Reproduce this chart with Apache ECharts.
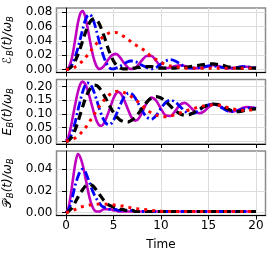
<!DOCTYPE html>
<html><head><meta charset="utf-8">
<script src="https://cdn.jsdelivr.net/npm/echarts@6/dist/echarts.min.js"></script>
<style>html,body{margin:0;padding:0;background:#fff}#c{width:274px;height:259px}</style>
</head><body><div id="c"></div>
<script>
var time = [0,0.25,0.5,0.75,1,1.25,1.5,1.75,2,2.25,2.5,2.75,3,3.25,3.5,3.75,4,4.25,4.5,4.75,5,5.25,5.5,5.75,6,6.25,6.5,6.75,7,7.25,7.5,7.75,8,
  8.5,9,9.5,10,10.5,11,11.5,12,12.5,13,13.5,14,14.5,15,15.5,16,16.5,17,17.5,18,18.5,19,19.5,20];
var xTicks = [0,5,10,15,20];

// Panel 1
var p1Magenta = [0,0.002,0.010,0.025,0.045,0.065,0.078,0.082,0.075,0.060,0.042,0.025,0.012,0.004,0.001,0.002,0.005,0.010,0.015,0.019,0.021,0.022,0.020,0.016,0.011,0.007,0.003,0.001,0.001,0.002,0.005,0.009,0.013,
  0.019,0.019,0.012,0.004,0.002,0.003,0.005,0.006,0.005,0.003,0.002,0.002,0.003,0.005,0.006,0.005,0.003,0.002,0.002,0.003,0.004,0.004,0.003,0.002];
var p1Blue = [0,0.001,0.004,0.010,0.019,0.030,0.043,0.056,0.068,0.075,0.077,0.073,0.064,0.052,0.039,0.027,0.017,0.009,0.004,0.001,0.001,0.002,0.003,0.005,0.007,0.009,0.011,0.012,0.012,0.011,0.010,0.008,0.006,
  0.003,0.001,0.003,0.008,0.012,0.014,0.012,0.008,0.004,0.002,0.002,0.003,0.004,0.005,0.005,0.004,0.003,0.002,0.002,0.003,0.004,0.004,0.003,0.002];
var p1Black = [0,0.001,0.003,0.007,0.013,0.021,0.030,0.040,0.050,0.059,0.066,0.070,0.071,0.069,0.064,0.056,0.047,0.037,0.027,0.019,0.012,0.007,0.004,0.002,0.001,0.001,0.001,0.001,0.002,0.002,0.003,0.003,0.004,
  0.004,0.004,0.003,0.002,0.002,0.002,0.002,0.003,0.003,0.004,0.005,0.006,0.007,0.008,0.008,0.007,0.006,0.004,0.003,0.002,0.002,0.002,0.002,0.002];
var p1Red = [0,0.0003,0.001,0.002,0.004,0.006,0.009,0.012,0.016,0.020,0.024,0.029,0.033,0.037,0.041,0.044,0.047,0.049,0.051,0.052,0.052,0.052,0.051,0.049,0.047,0.045,0.042,0.040,0.037,0.035,0.033,0.031,0.029,
  0.024,0.018,0.014,0.010,0.007,0.005,0.004,0.003,0.002,0.002,0.002,0.002,0.002,0.002,0.002,0.002,0.002,0.002,0.002,0.002,0.002,0.002,0.002,0.002];
var p1Ticks = [0,0.02,0.04,0.06,0.08];

// Panel 2
var p2Magenta = [0,0.015,0.05,0.095,0.14,0.18,0.208,0.218,0.21,0.19,0.16,0.128,0.097,0.072,0.058,0.056,0.066,0.085,0.108,0.133,0.157,0.174,0.18,0.175,0.16,0.14,0.118,0.097,0.082,0.075,0.077,0.088,0.104,
  0.14,0.16,0.148,0.118,0.094,0.092,0.11,0.133,0.14,0.128,0.11,0.102,0.108,0.124,0.134,0.132,0.122,0.112,0.108,0.112,0.12,0.125,0.124,0.12];
var p2Blue = [0,0.004,0.018,0.042,0.075,0.112,0.148,0.18,0.203,0.213,0.211,0.197,0.175,0.148,0.12,0.095,0.076,0.064,0.06,0.064,0.076,0.094,0.115,0.136,0.155,0.168,0.175,0.176,0.171,0.16,0.145,0.128,0.112,
  0.088,0.08,0.094,0.12,0.142,0.15,0.143,0.127,0.11,0.1,0.102,0.112,0.125,0.133,0.135,0.13,0.12,0.111,0.108,0.11,0.116,0.121,0.122,0.12];
var p2Black = [0,0.002,0.01,0.025,0.045,0.07,0.098,0.126,0.152,0.174,0.19,0.201,0.205,0.203,0.195,0.183,0.168,0.152,0.135,0.119,0.105,0.093,0.083,0.076,0.072,0.07,0.07,0.073,0.078,0.086,0.096,0.107,0.12,
  0.143,0.158,0.163,0.158,0.145,0.128,0.112,0.1,0.095,0.097,0.105,0.116,0.126,0.133,0.136,0.134,0.127,0.118,0.111,0.108,0.11,0.114,0.117,0.118];
var p2Red = [0,0.001,0.003,0.007,0.012,0.019,0.027,0.037,0.047,0.059,0.072,0.086,0.1,0.114,0.127,0.139,0.15,0.16,0.168,0.174,0.179,0.182,0.183,0.182,0.18,0.176,0.172,0.166,0.16,0.153,0.146,0.138,0.13,
  0.115,0.103,0.095,0.09,0.089,0.092,0.097,0.103,0.109,0.115,0.12,0.125,0.129,0.132,0.133,0.132,0.128,0.123,0.118,0.115,0.113,0.113,0.114,0.115];
var p2Ticks = [0,0.05,0.10,0.15,0.20];

// Panel 3
var p3Magenta = [0,0.004,0.016,0.032,0.046,0.054,0.051,0.044,0.034,0.023,0.013,0.006,0.002,0.001,0.001,0.002,0.003,0.003,0.003,0.003,0.002,0.002,0.001,0.001,0.001,0.001,0.001,0.001,0.001,0.001,0.001,0.001,0.001,
  0.001,0.001,0.001,0.001,0.001,0.001,0.001,0.001,0.001,0.001,0.001,0.001,0.001,0.001,0.001,0.001,0.001,0.001,0.001,0.001,0.001,0.001,0.001,0.001];
var p3Blue = [0,0.002,0.008,0.017,0.026,0.033,0.038,0.04,0.038,0.033,0.027,0.021,0.016,0.012,0.009,0.006,0.005,0.004,0.003,0.003,0.003,0.003,0.002,0.002,0.002,0.002,0.002,0.002,0.002,0.001,0.001,0.001,0.001,
  0.001,0.001,0.001,0.001,0.001,0.001,0.001,0.001,0.001,0.001,0.001,0.001,0.001,0.001,0.001,0.001,0.001,0.001,0.001,0.001,0.001,0.001,0.001,0.001];
var p3Black = [0,0.001,0.003,0.006,0.01,0.014,0.018,0.021,0.024,0.0255,0.026,0.025,0.023,0.02,0.017,0.014,0.011,0.009,0.007,0.006,0.005,0.004,0.004,0.003,0.003,0.002,0.002,0.002,0.002,0.001,0.001,0.001,0.001,
  0.001,0.001,0.001,0.001,0.001,0.001,0.001,0.001,0.001,0.001,0.001,0.001,0.001,0.001,0.001,0.001,0.001,0.001,0.001,0.001,0.001,0.001,0.001,0.001];
var p3Red = [0,0.0005,0.001,0.002,0.003,0.004,0.005,0.0055,0.006,0.0065,0.007,0.0073,0.0075,0.0077,0.0078,0.0078,0.0078,0.0077,0.0075,0.0073,0.007,0.0068,0.0065,0.0062,0.006,0.0055,0.005,0.0045,0.004,0.0037,0.0035,0.0032,0.003,
  0.0025,0.002,0.0015,0.0012,0.001,0.001,0.001,0.001,0.001,0.001,0.001,0.001,0.001,0.001,0.001,0.001,0.001,0.001,0.001,0.001,0.001,0.001,0.001,0.001];
var p3Ticks = [0,0.02,0.04];

var yNames = ['{c|ℰ}{s|B}(t)/ω{s|B}', 'E{s|B}(t)/ω{s|B}', '{c|𝒫}{s|B}(t)/ω{s|B}'];
var yRanges = [[-0.0041,0.0861],[-0.01075,0.2258],[-0.0027,0.0567]];

var FONT = 'DejaVu Sans';
var panels = [
  {m:p1Magenta,b:p1Blue,k:p1Black,r:p1Red,ticks:p1Ticks},
  {m:p2Magenta,b:p2Blue,k:p2Black,r:p2Red,ticks:p2Ticks},
  {m:p3Magenta,b:p3Blue,k:p3Black,r:p3Red,ticks:p3Ticks}
];
var tops = [8, 79.5, 151];
var H = 64.5;

function pairs(arr){ return time.map(function(t,i){return [t,arr[i]];}); }

var grids=[], xAxes=[], yAxes=[], series=[];
panels.forEach(function(p,i){
  grids.push({left:56.5, right:8.5, top:tops[i], height:H, show:true, borderColor:'#8a8a8a', borderWidth:1.5,
    backgroundColor:'transparent', containLabel:false, outerBoundsMode:'none'});
  var last = i===2;
  xAxes.push({type:'value', gridIndex:i, min:-1, max:21,
    axisLine:{show:true, onZero:false, lineStyle:{color:'#000', width:1}},
    axisTick:{show:true, length:4, customValues:xTicks, lineStyle:{color:'#000', width:1}},
    axisLabel:{show:last, customValues:xTicks, color:'#000', fontFamily:FONT, fontSize:12, margin:4},
    splitLine:{show:true, lineStyle:{color:'#dcdcdc', width:1}},
    name:last?'Time':'', nameLocation:'middle', nameGap:23,
    nameTextStyle:{color:'#000', fontFamily:FONT, fontSize:12}
  });
  yAxes.push({type:'value', gridIndex:i, min:yRanges[i][0], max:yRanges[i][1],
    axisLine:{show:true, lineStyle:{color:'#000', width:1}},
    axisTick:{show:true, length:4, customValues:p.ticks, lineStyle:{color:'#000', width:1}},
    axisLabel:{customValues:p.ticks, color:'#000', fontFamily:FONT, fontSize:12, margin:4,
      formatter:function(v){return v.toFixed(2);}},
    splitLine:{show:true, lineStyle:{color:'#dcdcdc', width:1}},
    name:yNames[i], nameLocation:'middle', nameRotate:90, nameGap:40,
    nameTextStyle:{color:'#000', fontFamily:FONT, fontSize:12, fontStyle:'italic',
      rich:{
        s:{fontSize:8.5, fontFamily:FONT, fontStyle:'italic', color:'#000', verticalAlign:'bottom', padding:[5,0,0,0]},
        c:{fontSize:12, fontFamily:FONT, fontStyle:'normal', color:'#000', padding:[0,1,0,0]}
      }}
  });
  var common = {type:'line', xAxisIndex:i, yAxisIndex:i, showSymbol:false, smooth:0.3, silent:true, animation:false};
  series.push(Object.assign({}, common, {data:pairs(p.m), lineStyle:{color:'#bf00bf', width:2.6}, z:2}));
  series.push(Object.assign({}, common, {data:pairs(p.b), lineStyle:{color:'#0000ff', width:2.8, type:[9,3,2,3]}, z:3}));
  series.push(Object.assign({}, common, {data:pairs(p.k), lineStyle:{color:'#000000', width:3.2, type:[8,5]}, z:4}));
  series.push(Object.assign({}, common, {data:pairs(p.r), lineStyle:{color:'#ff0000', width:3, type:[3,5], cap:'butt'}, z:5}));
});

var chart = echarts.init(document.getElementById('c'), null, {renderer:'canvas'});
chart.setOption({animation:false, grid:grids, xAxis:xAxes, yAxis:yAxes, series:series});
</script>
</body></html>
